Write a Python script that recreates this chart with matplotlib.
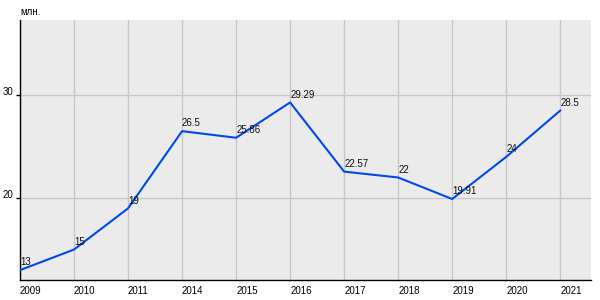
import matplotlib.pyplot as plt

years = ["2009", "2010", "2011", "2014", "2015", "2016", "2017", "2018", "2019", "2020", "2021"]
values = [13, 15, 19, 26.5, 25.86, 29.29, 22.57, 22, 19.91, 24, 28.5]
labels = ["13", "15", "19", "26.5", "25.86", "29.29", "22.57", "22", "19.91", "24", "28.5"]

LINE_COLOR = "#0048f0"
BG_COLOR = "#ebebeb"
GRID_COLOR = "#c8c8c8"

plt.rcParams["font.family"] = ["Liberation Sans", "DejaVu Sans"]

fig = plt.figure(figsize=(6, 3), dpi=100)
ax = fig.add_axes([20 / 600, 20 / 300, 571 / 600, 260 / 300])
ax.set_facecolor(BG_COLOR)

x = list(range(len(years)))
ax.plot(x, values, color=LINE_COLOR, linewidth=1.5, zorder=3)
for xi, v, lab in zip(x, values, labels):
    ax.annotate(lab, (xi, v), xytext=(0, 2), textcoords="offset points",
                ha="left", va="bottom", fontsize=7, color="#111111", zorder=4)

ax.set_xlim(0, 10.57)
ax.set_ylim(12.04, 37.3)
ax.set_xticks(x)
ax.set_xticklabels(years, ha="left")
ax.set_yticks([20, 30])
ax.set_yticklabels(["20", "30"], va="baseline")
ax.grid(True, color=GRID_COLOR, linewidth=1)
ax.set_axisbelow(True)

for side in ["top", "right"]:
    ax.spines[side].set_visible(False)
for side in ["left", "bottom"]:
    ax.spines[side].set_color("black")
    ax.spines[side].set_linewidth(1)

ax.tick_params(axis="x", length=0, pad=4, labelsize=7)
ax.tick_params(axis="y", length=3, width=1, pad=2, labelsize=7)

fig.text(20 / 600, 1 - 12 / 300, "млн.", fontsize=7, ha="left", va="center")

fig.savefig("out.png", dpi=100)
